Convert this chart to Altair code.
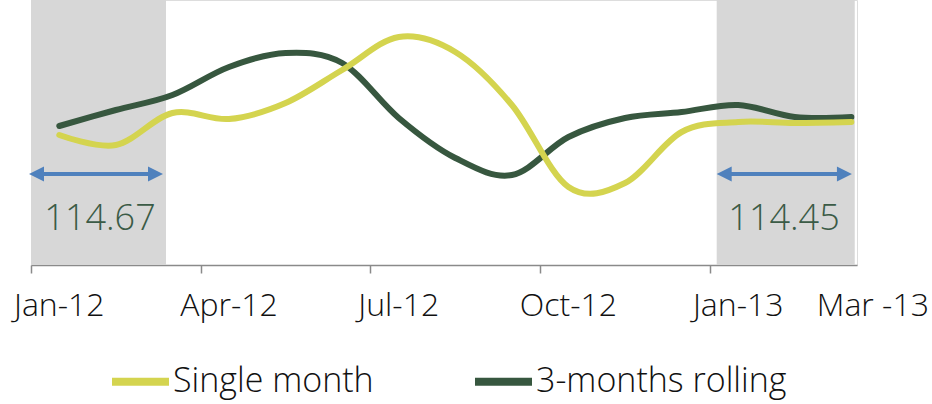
import altair as alt
import pandas as pd

# ---- data ----
months = ["Jan-12", "Feb-12", "Mar-12", "Apr-12", "May-12", "Jun-12", "Jul-12",
          "Aug-12", "Sep-12", "Oct-12", "Nov-12", "Dec-12", "Jan-13", "Feb-13", "Mar-13"]
single_month = [113.80, 113.60, 114.24, 114.12, 114.44, 115.10, 115.76, 115.46,
                114.40, 112.76, 112.84, 113.86, 114.06, 114.04, 114.06]
rolling_3m = [113.98, 114.30, 114.60, 115.16, 115.44, 115.24, 114.14, 113.34,
              113.00, 113.76, 114.14, 114.26, 114.40, 114.16, 114.16]

tick_labels = ["Jan-12", "Apr-12", "Jul-12", "Oct-12", "Jan-13", "Mar -13"]
tick_label_pos = [0, 3, 6, 9, 12, 14.38]
tick_marks = [-0.5, 2.5, 5.5, 8.5, 11.5]

shade_start = [-0.5, 11.62]
shade_end = [1.886, 14.06]
arrow_start = [-0.535, 11.62]
arrow_end = [1.833, 14.01]
arrow_level = [113.02, 113.02]
avg_text = ["114.67", "114.45"]
avg_pos = [0.72, 12.81]
avg_level = [112.12, 112.12]

series_names = ["Single month", "3-months rolling"]
series_colors = ["#D4D44F", "#37573F"]

# ---- tables ----
idx = list(range(len(months)))
df_single = pd.DataFrame({"i": idx, "month": months, "value": single_month, "series": series_names[0]})
df_roll = pd.DataFrame({"i": idx, "month": months, "value": rolling_3m, "series": series_names[1]})
df_shade = pd.DataFrame({"x": shade_start, "x2": shade_end})
df_arrow = pd.DataFrame({"x": arrow_start, "x2": arrow_end, "y": arrow_level})
df_avg = pd.DataFrame({"x": avg_pos, "y": avg_level, "t": avg_text})
df_ticks = pd.DataFrame({"x": tick_label_pos, "t": tick_labels})

W, H = 826, 265
FONT = "Open Sans"
xscale = alt.Scale(domain=[-0.5, 14.1], nice=False, zero=False)
yscale = alt.Scale(domain=[111.2, 116.5], nice=False, zero=False)
xaxis = alt.Axis(values=tick_marks, labels=False, title=None, grid=False,
                 domainColor="#8a8a8a", tickColor="#8a8a8a", tickSize=8,
                 domainWidth=1.5, tickWidth=1.5)
color = alt.Color("series:N", scale=alt.Scale(domain=series_names, range=series_colors),
                  legend=alt.Legend(title=None, orient="none", direction="horizontal",
                                    legendX=77, legendY=349, symbolType="stroke",
                                    symbolStrokeWidth=8, symbolSize=3249,
                                    labelFont=FONT, labelFontSize=34, labelFontWeight=300,
                                    labelColor="#111111", labelOffset=0, labelLimit=0,
                                    columnPadding=85, padding=0))

shade = alt.Chart(df_shade).mark_rect(color="#D7D7D7").encode(
    x=alt.X("x:Q", scale=xscale, axis=xaxis),
    x2="x2:Q",
    y=alt.value(0), y2=alt.value(H))

shaft = alt.Chart(df_arrow).mark_rule(color="#4F81BD", strokeWidth=4, xOffset=8, x2Offset=-8).encode(
    x=alt.X("x:Q", scale=xscale), x2="x2:Q", y=alt.Y("y:Q", scale=yscale, axis=None))
head_l = alt.Chart(df_arrow).mark_point(shape="M0,0 L1,-0.5 L1,0.5 Z", filled=True, size=900,
                                        color="#4F81BD", opacity=1).encode(
    x=alt.X("x:Q", scale=xscale), y=alt.Y("y:Q", scale=yscale, axis=None))
head_r = alt.Chart(df_arrow).mark_point(shape="M0,0 L-1,-0.5 L-1,0.5 Z", filled=True, size=900,
                                        color="#4F81BD", opacity=1).encode(
    x=alt.X("x2:Q", scale=xscale), y=alt.Y("y:Q", scale=yscale, axis=None))

avg = alt.Chart(df_avg).mark_text(font=FONT, fontSize=36, fontWeight=300, color="#3B5B46",
                                  baseline="middle", align="center").encode(
    x=alt.X("x:Q", scale=xscale), y=alt.Y("y:Q", scale=yscale, axis=None), text="t:N")

line_roll = alt.Chart(df_roll).mark_line(interpolate="cardinal", strokeWidth=6, strokeCap="round").encode(
    x=alt.X("i:Q", scale=xscale), y=alt.Y("value:Q", scale=yscale, axis=None), color=color)
line_single = alt.Chart(df_single).mark_line(interpolate="cardinal", strokeWidth=6, strokeCap="round").encode(
    x=alt.X("i:Q", scale=xscale), y=alt.Y("value:Q", scale=yscale, axis=None), color=color)

xlabels = alt.Chart(df_ticks).mark_text(font=FONT, fontSize=32, fontWeight=300, color="#111111",
                                        baseline="alphabetic", align="center").encode(
    x=alt.X("x:Q", scale=xscale), y=alt.value(316), text="t:N")

chart = alt.layer(shade, shaft, head_l, head_r, avg, line_roll, line_single, xlabels).properties(
    width=W, height=H,
    autosize=alt.AutoSizeParams(type="none"),
    padding={"left": 31, "top": 0, "right": 75, "bottom": 139},
).configure_view(stroke=None).configure(background="white")

chart.save("out.html", embed_options={"renderer": "svg", "actions": False})
